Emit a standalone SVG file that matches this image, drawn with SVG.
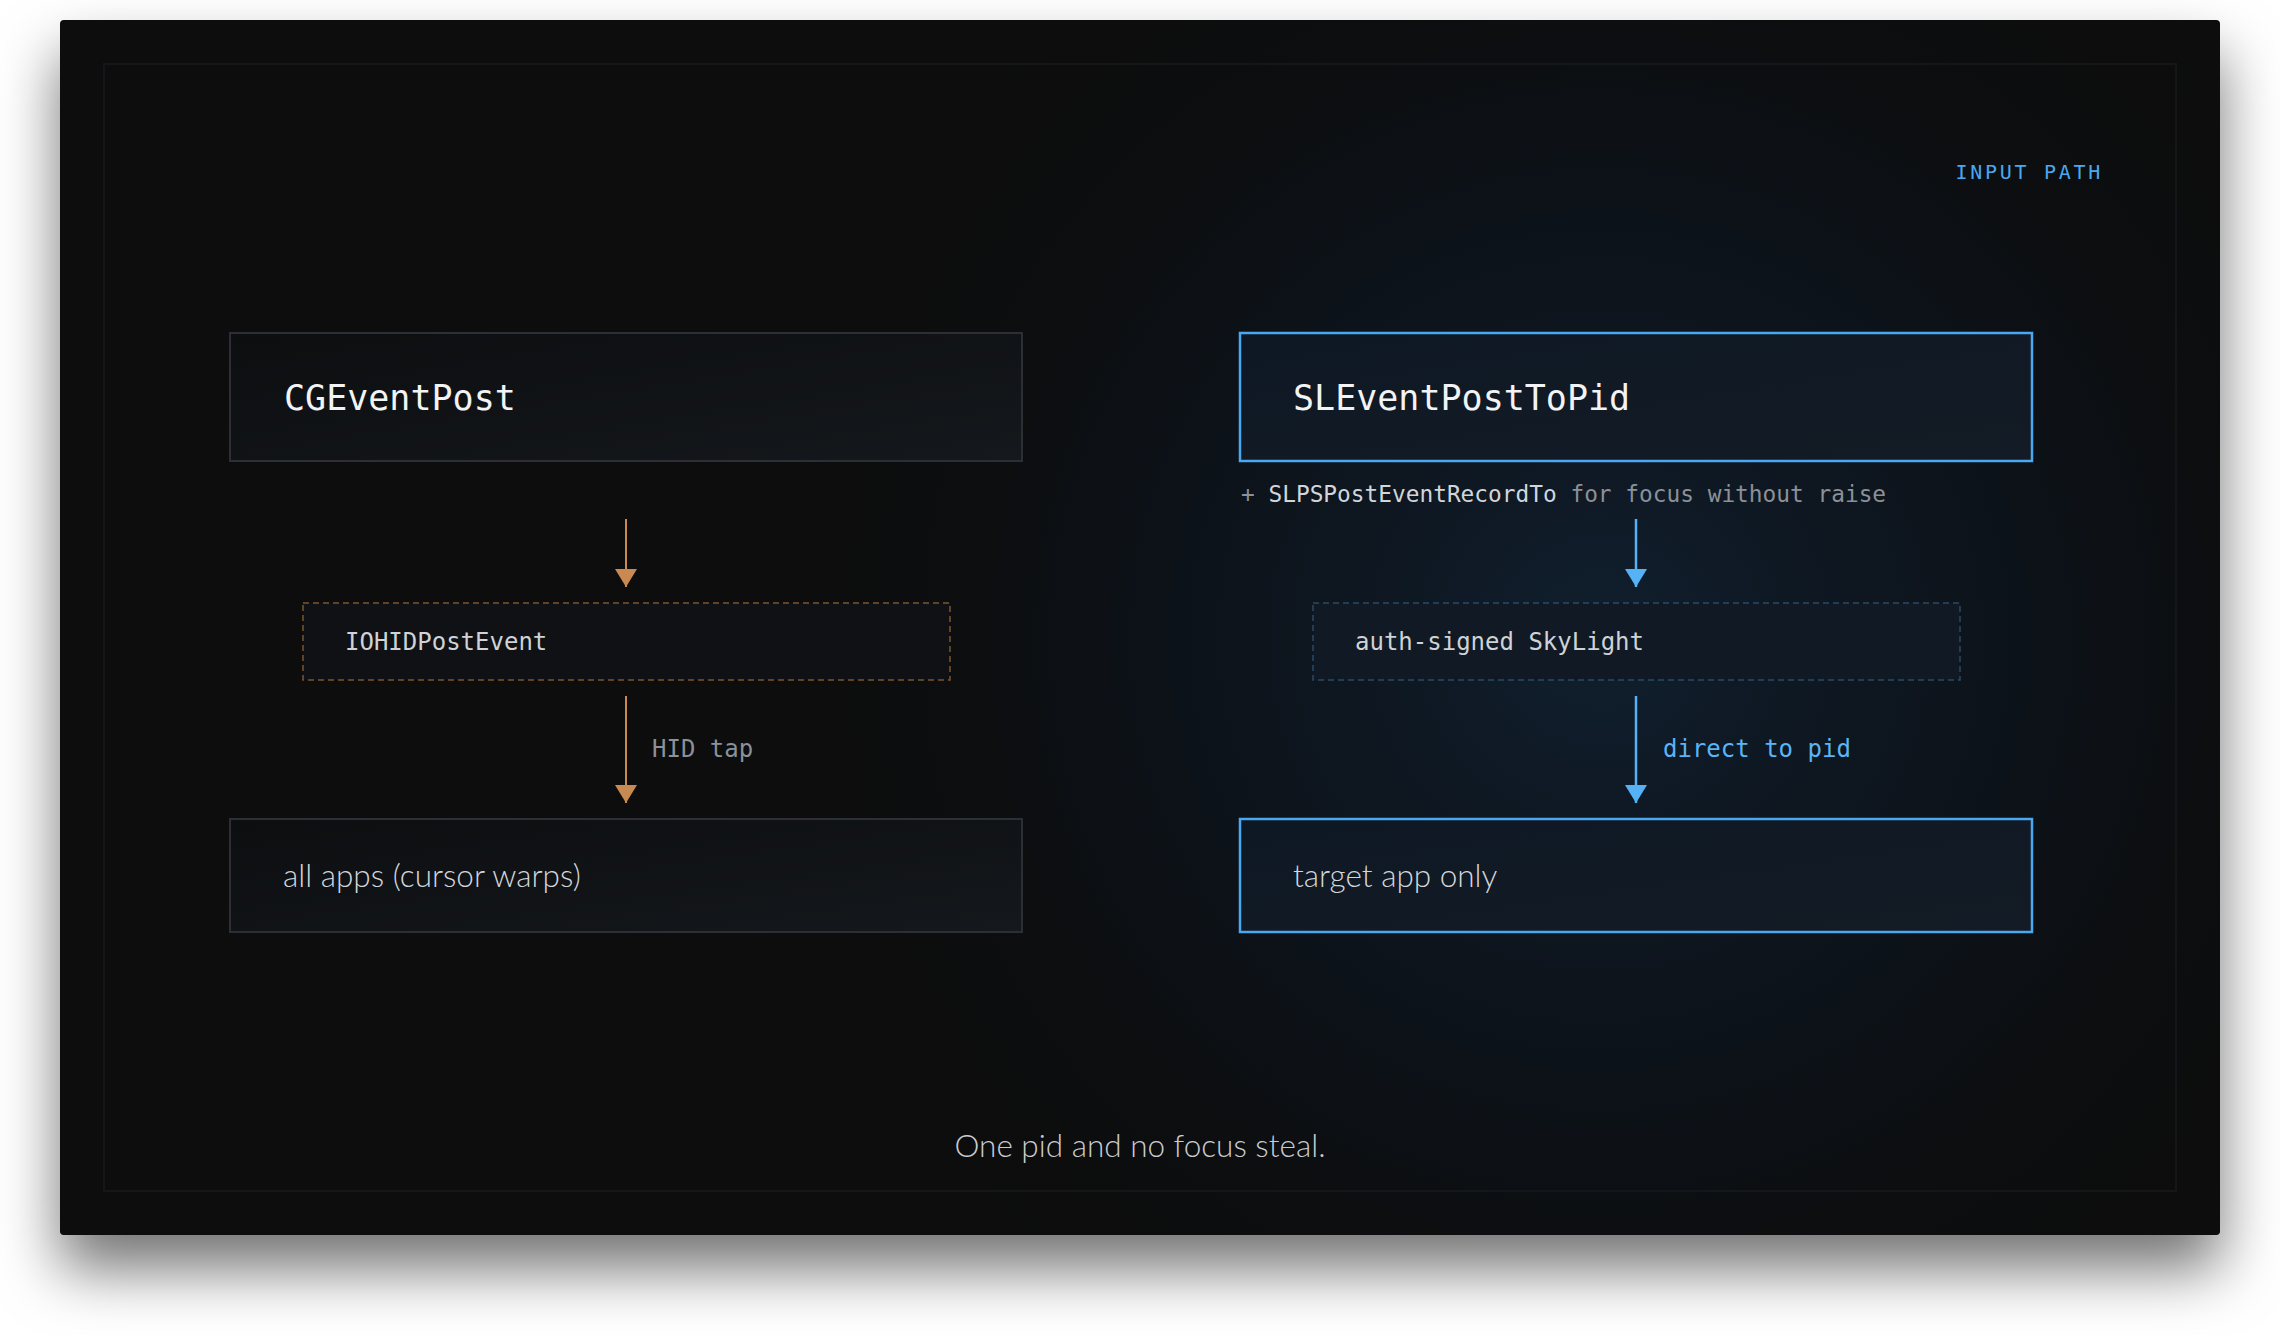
<svg xmlns="http://www.w3.org/2000/svg" width="2280" height="1335" viewBox="0 0 2280 1335">
  <defs>
    <filter id="shadow" x="-10%" y="-10%" width="120%" height="135%">
      <feDropShadow dx="0" dy="34" stdDeviation="30" flood-color="#000" flood-opacity="0.55"/>
    </filter>
    <radialGradient id="glow" cx="1600" cy="640" r="850" gradientUnits="userSpaceOnUse">
      <stop offset="0" stop-color="#112132" stop-opacity="0.9"/>
      <stop offset="0.55" stop-color="#0c1622" stop-opacity="0.5"/>
      <stop offset="1" stop-color="#07080a" stop-opacity="0"/>
    </radialGradient>
    <linearGradient id="greyFill" x1="0" y1="0" x2="1" y2="1">
      <stop offset="0" stop-color="#0c0e10"/>
      <stop offset="1" stop-color="#15181c"/>
    </linearGradient>
    <linearGradient id="blueFill" x1="0" y1="0" x2="1" y2="1">
      <stop offset="0" stop-color="#0e1824"/>
      <stop offset="1" stop-color="#131b25"/>
    </linearGradient>
    <marker id="arrOrange" viewBox="0 0 18 22" markerWidth="18" markerHeight="22" refX="18" refY="11" orient="auto" markerUnits="userSpaceOnUse">
      <path d="M0,0 L18,11 L0,22 Z" fill="#c98a52"/>
    </marker>
    <marker id="arrBlue" viewBox="0 0 18 22" markerWidth="18" markerHeight="22" refX="18" refY="11" orient="auto" markerUnits="userSpaceOnUse">
      <path d="M0,0 L18,11 L0,22 Z" fill="#55b2f6"/>
    </marker>
    <style>
      .mono { font-family: "DejaVu Sans Mono", "Liberation Mono", monospace; }
      .sans { font-family: "Lato", "Open Sans", "Liberation Sans", sans-serif; font-weight: 300; }
      .boxGrey { fill: url(#greyFill); stroke: #2c2f35; stroke-width: 2; }
      .boxBlue { fill: url(#blueFill); stroke: #4aa8f0; stroke-width: 2.5; }
      .dashOrange { fill: #0f1114; stroke: #7a5532; stroke-width: 1.5; stroke-dasharray: 6 4; }
      .dashBlue { fill: #111a24; stroke: #2a4966; stroke-width: 1.5; stroke-dasharray: 6 4; }
      .title { font-size: 35px; fill: #f2f3f5; }
      .mid { font-size: 24px; fill: #cfd2d6; }
      .lbl { font-size: 24px; }
      .end { font-size: 31.5px; fill: #d4d6da; }
    </style>
  </defs>

  <rect x="0" y="0" width="2280" height="1335" fill="#ffffff"/>
  <rect x="60" y="20" width="2160" height="1215" rx="4" fill="#07080a" filter="url(#shadow)"/>
  <rect x="60" y="20" width="2160" height="1215" rx="4" fill="url(#glow)"/>
  <rect x="104" y="64" width="2072" height="1127" fill="none" stroke="#14161a" stroke-width="2"/>

  <text class="mono" x="2103" y="179" text-anchor="end" font-size="20" letter-spacing="2.7" fill="#4aa8f0">INPUT PATH</text>

  <g id="connectors">
    <line x1="626" y1="519" x2="626" y2="587" stroke="#c98a52" stroke-width="2" marker-end="url(#arrOrange)"/>
    <line x1="626" y1="696" x2="626" y2="803" stroke="#c98a52" stroke-width="2" marker-end="url(#arrOrange)"/>
    <text class="mono lbl" x="652" y="757" fill="#8b9099">HID tap</text>
    <line x1="1636" y1="519" x2="1636" y2="587" stroke="#55b2f6" stroke-width="2.5" marker-end="url(#arrBlue)"/>
    <line x1="1636" y1="696" x2="1636" y2="803" stroke="#55b2f6" stroke-width="2.5" marker-end="url(#arrBlue)"/>
    <text class="mono lbl" x="1663" y="757" fill="#5ab4f5">direct to pid</text>
  </g>

  <g id="cgeventpost">
    <rect class="boxGrey" x="230" y="333" width="792" height="128"/>
    <text class="mono title" x="284" y="410">CGEventPost</text>
  </g>

  <g id="iohidpostevent">
    <rect class="dashOrange" x="303" y="603" width="647" height="77"/>
    <text class="mono mid" x="345" y="650">IOHIDPostEvent</text>
  </g>

  <g id="allapps">
    <rect class="boxGrey" x="230" y="819" width="792" height="113"/>
    <text class="sans end" x="283" y="887">all apps (cursor warps)</text>
  </g>

  <g id="sleventposttopid">
    <rect class="boxBlue" x="1240" y="333" width="792" height="128"/>
    <text class="mono title" x="1293" y="410">SLEventPostToPid</text>
    <text class="mono" x="1241" y="502" font-size="22.8" fill="#8b9099">+ <tspan fill="#d2d5da">SLPSPostEventRecordTo</tspan> for focus without raise</text>
  </g>

  <g id="skylight">
    <rect class="dashBlue" x="1313" y="603" width="647" height="77"/>
    <text class="mono mid" x="1355" y="650">auth-signed SkyLight</text>
  </g>

  <g id="targetapp">
    <rect class="boxBlue" x="1240" y="819" width="792" height="113"/>
    <text class="sans end" x="1293" y="887">target app only</text>
  </g>

  <text class="sans" x="1140" y="1157" text-anchor="middle" font-size="31.5" fill="#c9ccd1">One pid and no focus steal.</text>
</svg>
